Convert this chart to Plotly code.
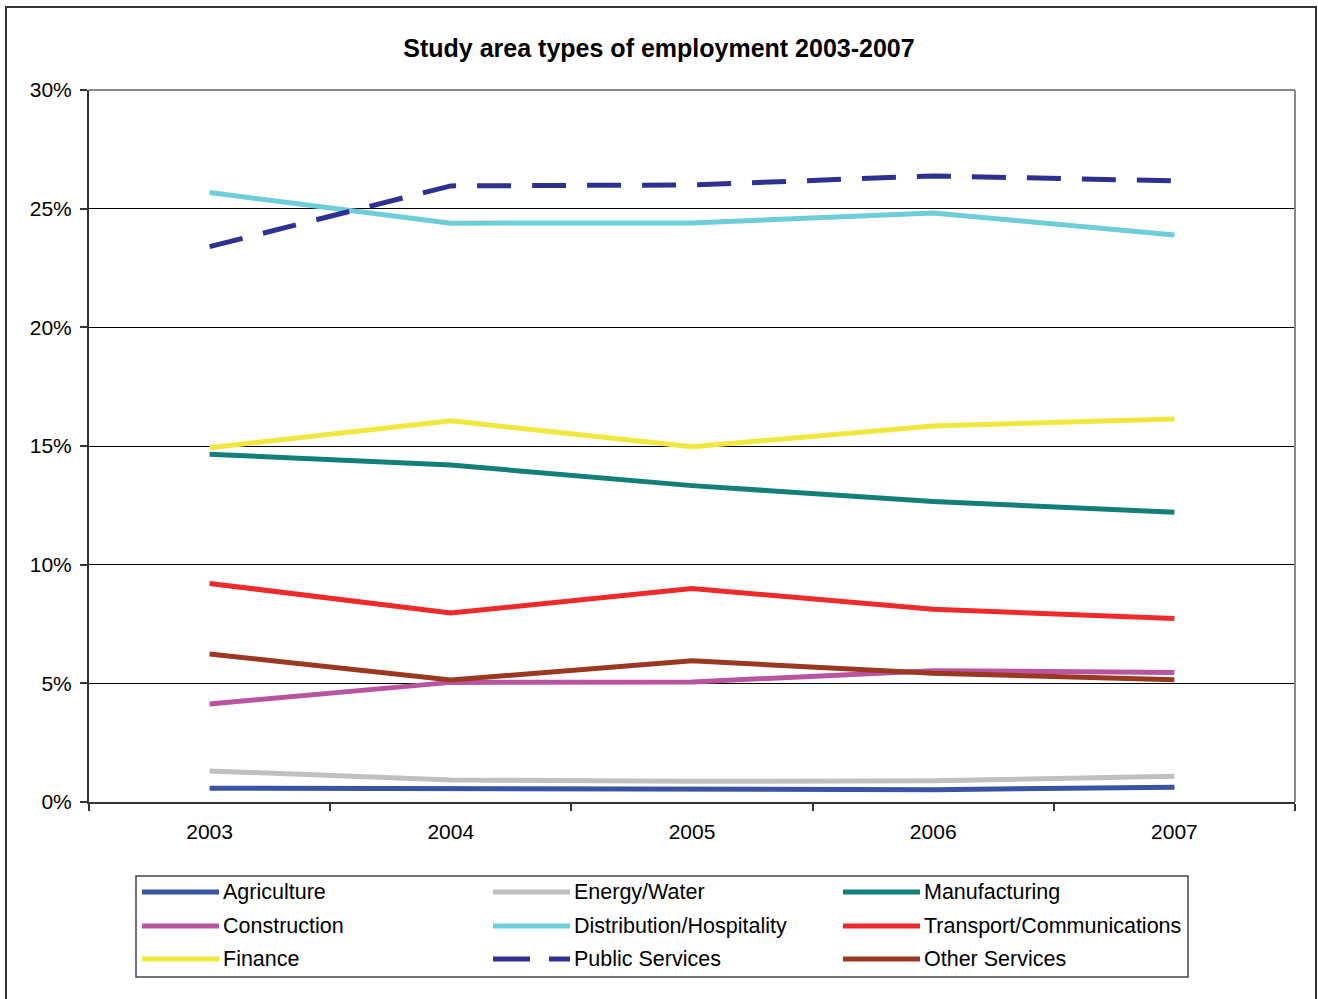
import plotly.graph_objects as go

# Employment share by sector (% of study-area jobs)
years = ["2003", "2004", "2005", "2006", "2007"]

agriculture = [0.58, 0.57, 0.55, 0.52, 0.62]
energy_water = [1.31, 0.93, 0.87, 0.90, 1.08]
manufacturing = [14.65, 14.20, 13.33, 12.66, 12.21]
construction = [4.13, 5.04, 5.06, 5.53, 5.46]
distribution = [25.68, 24.39, 24.40, 24.82, 23.89]
transport = [9.21, 7.96, 9.00, 8.12, 7.73]
finance = [14.93, 16.06, 14.97, 15.84, 16.14]
public_services = [23.40, 25.96, 26.00, 26.38, 26.17]
other_services = [6.24, 5.14, 5.95, 5.42, 5.15]

y_ticks = [0, 5, 10, 15, 20, 25, 30]

series = [
    ("Agriculture", agriculture, "#3a53a4", "solid"),
    ("Energy/Water", energy_water, "#c0c0c0", "solid"),
    ("Manufacturing", manufacturing, "#127f79", "solid"),
    ("Construction", construction, "#b955a0", "solid"),
    ("Distribution/Hospitality", distribution, "#6dcdd8", "solid"),
    ("Transport/Communications", transport, "#ee2a2a", "solid"),
    ("Finance", finance, "#f0e83d", "solid"),
    ("Public Services", public_services, "#2e3192", "34px,21px"),
    ("Other Services", other_services, "#9a3822", "solid"),
]

W, H = 1318, 999
L, R, T, B = 89, 1295, 90, 802  # plot area in pixels
FONT = "Liberation Sans, Arial, sans-serif"


def px_x(px):
    return (px - L) / (R - L)


def px_y(py):
    return (B - py) / (B - T)


fig = go.Figure()
for name, vals, color, dash in series:
    fig.add_trace(go.Scatter(
        x=years, y=vals, name=name, mode="lines",
        line=dict(color=color, width=5, dash=dash),
        showlegend=False,
    ))

shapes = []
# outer chart frame
shapes.append(dict(type="rect", xref="paper", yref="paper",
                   x0=px_x(6), x1=px_x(1316), y0=px_y(1012), y1=px_y(7),
                   line=dict(color="#333333", width=2), layer="below"))
# top and right edges of plot area
shapes.append(dict(type="line", xref="paper", yref="paper", x0=0, x1=1, y0=1, y1=1,
                   line=dict(color="#888888", width=2)))
shapes.append(dict(type="line", xref="paper", yref="paper", x0=1, x1=1, y0=0, y1=1,
                   line=dict(color="#888888", width=2)))

# legend box
shapes.append(dict(type="rect", xref="paper", yref="paper",
                   x0=px_x(136), x1=px_x(1188), y0=px_y(977), y1=px_y(876),
                   line=dict(color="#444444", width=1.5)))

annotations = []
col_x = [142, 493, 843]
row_y = [892, 926, 959]
for i, (name, vals, color, dash) in enumerate(series):
    cx = col_x[i % 3]
    ry = row_y[i // 3]
    legend_dash = "37px,19px" if dash != "solid" else "solid"
    shapes.append(dict(type="line", xref="paper", yref="paper",
                       x0=px_x(cx), x1=px_x(cx + 77), y0=px_y(ry), y1=px_y(ry),
                       line=dict(color=color, width=5, dash=legend_dash)))
    annotations.append(dict(x=px_x(cx + 79), y=px_y(ry), xref="paper", yref="paper",
                            text=name, showarrow=False, xanchor="left", yanchor="middle",
                            font=dict(family=FONT, size=21.5, color="#000000")))

fig.update_layout(
    width=W, height=H,
    margin=dict(l=L, r=W - R, t=T, b=H - B),
    paper_bgcolor="white", plot_bgcolor="white",
    title=dict(text="<b>Study area types of employment 2003-2007</b>",
               x=0.5, xanchor="center", y=1 - 48 / H, yanchor="middle",
               font=dict(family=FONT, size=25, color="#000000")),
    xaxis=dict(type="category", range=[-0.5, 4.5], tickson="boundaries",
               ticks="outside", ticklen=7, tickwidth=1.5, tickcolor="#333333",
               showline=True, linecolor="#333333", linewidth=2,
               showgrid=False, zeroline=False, ticklabelstandoff=10,
               tickfont=dict(family=FONT, size=21, color="#000000")),
    yaxis=dict(range=[0, 30], tickvals=y_ticks, ticktext=[f"{v}%" for v in y_ticks],
               ticks="outside", ticklen=7, tickwidth=1.5, tickcolor="#333333",
               showline=True, linecolor="#333333", linewidth=2, ticklabelstandoff=4,
               showgrid=True, gridcolor="#000000", gridwidth=1, zeroline=False,
               tickfont=dict(family=FONT, size=21, color="#000000")),
    shapes=shapes,
    annotations=annotations,
    showlegend=False,
)

fig.write_html("out.html")
